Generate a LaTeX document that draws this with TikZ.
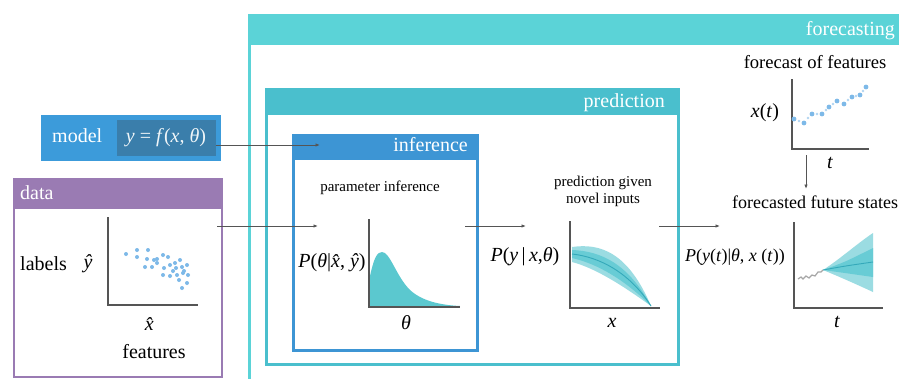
\documentclass[tikz,border=0pt]{standalone}
\usepackage{fontspec}
\setmainfont{Liberation Serif}
\usetikzlibrary{arrows.meta, positioning}
\definecolor{fccyan}{HTML}{5BD3D7}
\definecolor{predcyan}{HTML}{4ABFCD}
\definecolor{infblue}{HTML}{3D95D4}
\definecolor{mdlblue}{HTML}{3C9BDA}
\definecolor{frmblue}{HTML}{3A7EAB}
\definecolor{datapurple}{HTML}{9A7BB3}
\definecolor{tealfill}{HTML}{5BC8CF}
\definecolor{bandout}{HTML}{9BDCE2}
\definecolor{bandin}{HTML}{68CCD5}
\definecolor{bandmid}{HTML}{34A9BA}
\definecolor{dotblue}{HTML}{7DB9E8}
\definecolor{axisgray}{HTML}{555555}
% italic letters set in the text face
\newcommand{\vr}[1]{\textit{#1}}

\begin{document}
\begin{tikzpicture}[x=1pt, y=-1pt,
  panel/.style={draw, fill=white, anchor=north west, inner sep=0pt},
  head/.style={anchor=north west, inner sep=0pt},
  headtxt/.style={text=white, font=\fontsize{20}{22}\selectfont, inner sep=0pt},
  txt/.style={font=\fontsize{18.6}{20}\selectfont, inner sep=0pt},
  small/.style={font=\fontsize{15}{17}\selectfont, inner sep=0pt, align=center},
  mathtxt/.style={font=\fontsize{20}{22}\selectfont, inner sep=0pt},
  flow/.style={-{Latex[length=4.5pt,width=3.5pt]}, draw=axisgray, line width=0.9pt},
  axes/.style={draw=axisgray, line width=1.6pt}
]
\clip (0,0) rectangle (899,378);

% Boxes (outer frames first, headers on top)
\node[panel, draw=fccyan, line width=3pt, minimum width=700, minimum height=420] (fc) at (247.5,13.5) {};
\node[head, fill=fccyan, minimum width=700, minimum height=31] (fchd) at (fc.north west) {};
\node[panel, draw=predcyan, line width=3pt, minimum width=412, minimum height=275] (pred) at (264.5,87.5) {};
\node[head, fill=predcyan, minimum width=412, minimum height=27] (predhd) at (pred.north west) {};
\node[panel, draw=infblue, line width=3pt, minimum width=184, minimum height=215] (inf) at (291.5,133.5) {};
\node[head, fill=infblue, minimum width=184, minimum height=26] (infhd) at (inf.north west) {};
\node[panel, draw=datapurple, line width=2.5pt, minimum width=208, minimum height=198] (data) at (12.5,177.5) {};
\node[head, fill=datapurple, minimum width=208, minimum height=31] (datahd) at (data.north west) {};
\node[head, fill=mdlblue, minimum width=180, minimum height=46] (mdl) at (41,115) {};
\node[fill=frmblue, minimum width=99, minimum height=36, inner sep=0pt, text=white!92!frmblue,
  font=\fontsize{20}{22}\selectfont] (frm) at (166,138) {\vr{y} = \vr{f}(\vr{x}, \vr{θ})};

% Header texts
\node[headtxt, anchor=base east] (fctxt) at (895,35) {forecasting};
\node[headtxt, anchor=base east] (predtxt) at (665,107) {prediction};
\node[headtxt, anchor=base east] (inftxt) at (468,151) {inference};
\node[headtxt, anchor=base west] (datatxt) at (20,199) {data};
\node[headtxt, anchor=base west] (mdltxt) at (52,142) {model};

% Data panel
\node[txt, font=\fontsize{20}{22}\selectfont, anchor=base west] (lbl) at (20,270) {labels};
\node[mathtxt] (yhat) at (88,264) {\vr{ŷ}};
\node[mathtxt] (xhat) at (153,324) {\vr{\^{x}}};
\node[txt, font=\fontsize{20}{22}\selectfont] (feat) at (154,352) {features};
\draw[axes] (108,217) -- (108,305) -- (198,305);
\foreach \p in {(126,254),(137,250),(137,257),(148,250),(147,259),(154,260),(157,263),(163,255),
  (168,257),(145,267),(152,267),(164,268),(170,265),(175,263),(180,260),(176,268),(182,267),
  (187,265),(163,275),(170,276),(177,275),(183,273),(188,275),(179,280),(187,283),(182,288),
  (157,259),(173,271),(184,271)}
  \fill[dotblue] \p circle (2);

% Inference panel
\node[small] (parinf) at (380,188) {parameter inference};
\node[mathtxt] (pth) at (332,263) {\vr{P}(\vr{θ}|\vr{\^{x}}, \vr{ŷ})};
\node[mathtxt] (thax) at (406,323) {\vr{θ}};
\fill[tealfill] (370,307) -- (370,276) .. controls (374,258) and (377,252) .. (382,252)
  .. controls (390,252) and (396,276) .. (410,290) .. controls (422,301) and (440,305) .. (460,306) -- cycle;
\draw[axes] (369,219) -- (369,307) -- (460,307);

% Prediction panel
\node[small] (pgiven) at (603,191) {prediction given\\novel inputs};
\node[mathtxt] (pyx) at (525,257) {\vr{P}(\vr{y}\,|\,\vr{x},\vr{θ})};
\node[mathtxt] (xax) at (612,323) {\vr{x}};
\fill[bandout] (572,247) .. controls (600,243) and (628,252) .. (651,306)
  .. controls (622,285) and (595,268) .. (572,262) -- cycle;
\fill[bandin] (572,250) .. controls (600,251) and (628,263) .. (651,306)
  .. controls (625,280) and (598,264) .. (572,258) -- cycle;
\draw[bandmid, line width=0.9pt] (572,254) .. controls (600,257) and (630,273) .. (651,306);
\draw[axes] (570,221) -- (570,308) -- (660,308);

% Forecasting panel
\node[txt] (fcfeat) at (815,62) {forecast of features};
\node[mathtxt] (xt) at (765,113) {\vr{x}(\vr{t})};
\node[mathtxt] (tax1) at (830,163) {\vr{t}};
\draw[axes] (792,79) -- (792,149) -- (869,149);
\foreach \p in {(794,119),(804,123),(812,114),(822,114),(829,107),(837,101),(844,104),(852,97),(860,95),(866,87)}
  \fill[dotblue] \p circle (2.4);
\foreach \p in {(799,121),(808,118),(817,114),(826,110),(833,104),(848,100),(856,96),(863,91)}
  \fill[dotblue!60] \p circle (1.3);
\node[txt, font=\fontsize{18}{20}\selectfont, anchor=base west] (fcfut) at (732,208) {forecasted future states};
\node[mathtxt, font=\fontsize{18}{20}\selectfont] (pyt) at (735,257) {\vr{P}(\vr{y}(\vr{t})|\vr{θ}, \vr{x} (\vr{t}))};
\node[mathtxt] (tax2) at (837,322) {\vr{t}};
\fill[bandout] (823,270) .. controls (840,259) and (858,243) .. (873,233) -- (873,292)
  .. controls (858,285) and (840,277) .. (823,270);
\fill[bandin] (823,270) .. controls (845,262) .. (873,248) -- (873,277) .. controls (845,273) .. (823,270);
\draw[bandmid, line width=0.9pt] (823,270) .. controls (845,266) .. (873,262);
\draw[gray!70, line width=1.2pt] (798,279) -- (801,277) -- (803,279) -- (806,276) -- (809,278)
  -- (812,275) -- (815,276) -- (818,272) -- (821,272) -- (823,270);
\draw[axes] (794,222) -- (794,308) -- (883,308);

% Connectors
\coordinate (infin1) at (320,145);
\coordinate (infin2) at (318,226);
\coordinate (datout) at (217,226);
\coordinate (infout) at (465,226);
\coordinate (predin) at (526,226);
\coordinate (predout) at (659,226);
\coordinate (fcin) at (720,226);
\coordinate (fcdown) at (806,155);
\coordinate (fcfutin) at (806,189);
\draw[flow] (frm.east |- infin1) -- (infin1);
\draw[flow] (datout) -- (infin2);
\draw[flow] (infout) -- (predin);
\draw[flow] (predout) -- (fcin);
\draw[flow] (fcdown) -- (fcfutin);
\end{tikzpicture}
\end{document}
